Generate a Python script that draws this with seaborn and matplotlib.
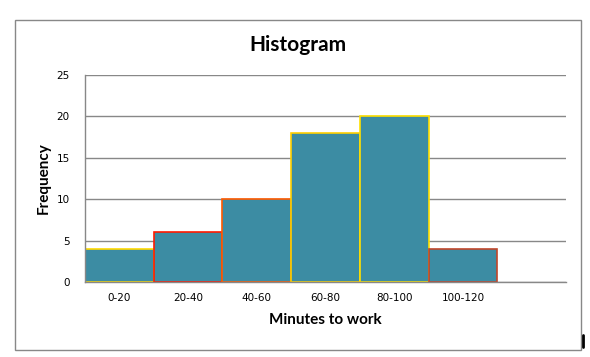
import matplotlib
matplotlib.use("Agg")
import matplotlib.pyplot as plt
import seaborn as sns
import pandas as pd
from matplotlib.patches import Rectangle
from matplotlib.lines import Line2D

categories = ['0-20', '20-40', '40-60', '60-80', '80-100', '100-120']
frequency = [4, 6, 10, 18, 20, 4]
edge_colors = ['#FFD800', '#FF1A00', '#FF5A00', '#FFD000', '#FFE000', '#C0462A']

sns.set_theme(style="white")
plt.rcParams['font.family'] = ['DejaVu Sans']
plt.rcParams['text.color'] = 'black'
plt.rcParams['axes.labelcolor'] = 'black'
plt.rcParams['xtick.labelcolor'] = 'black'
plt.rcParams['ytick.labelcolor'] = 'black'

df = pd.DataFrame({'bin': categories, 'freq': frequency})

fig = plt.figure(figsize=(5.9, 3.57), dpi=100)
ax = fig.add_axes([85/590, 1-282/357, (566-85)/590, (282-75)/357])

sns.barplot(data=df, x='bin', y='freq', ax=ax, color='#3C8CA3', saturation=1,
            width=1.0, linewidth=1.2, edgecolor='none')
for p, ec in zip(ax.patches, edge_colors):
    p.set_edgecolor(ec)

ax.set_xlim(-0.5, 6.5)
ax.set_ylim(0, 25)
ax.set_yticks([0, 5, 10, 15, 20, 25])
ax.set_yticklabels(['0', '5', '10', '15', '20', '25'], fontsize=7.5)
ax.set_xticks([i - 0.5 for i in range(8)])
ax.set_xticklabels([''] * 8)
ax.set_xticks(range(len(categories)), minor=True)
ax.set_xticklabels(categories, minor=True, fontsize=7.5)
ax.tick_params(axis='x', which='major', length=5, color='#888888', width=1, direction='out')
ax.tick_params(axis='x', which='minor', length=0, pad=8)
ax.tick_params(axis='y', length=5, color='#888888', width=1, direction='out', pad=6)
ax.grid(axis='y', color='#888888', linewidth=1)
ax.set_axisbelow(True)
for s in ['top', 'right']:
    ax.spines[s].set_visible(False)
for s in ['left', 'bottom']:
    ax.spines[s].set_color('#888888')
    ax.spines[s].set_linewidth(1)

ax.set_xlabel('Minutes to work', fontsize=11, fontweight='bold', labelpad=7,
              family=['Lato', 'DejaVu Sans'])
ax.set_ylabel('Frequency', fontsize=11, fontweight='bold', labelpad=4,
              family=['Lato', 'DejaVu Sans'])
fig.text(298/590, 1-45/357, 'Histogram', ha='center', va='center',
         fontsize=15, fontweight='bold', family=['Lato', 'DejaVu Sans'])

fig.patches.append(Rectangle((15/590, 1-350/357), (581-15)/590, (350-20)/357,
                             transform=fig.transFigure, fill=False,
                             edgecolor='#888888', linewidth=1))
fig.lines.append(Line2D([583/590, 583/590], [1-347/357, 1-335/357],
                        transform=fig.transFigure, color='black', linewidth=2))

fig.savefig('out.png', dpi=100)
